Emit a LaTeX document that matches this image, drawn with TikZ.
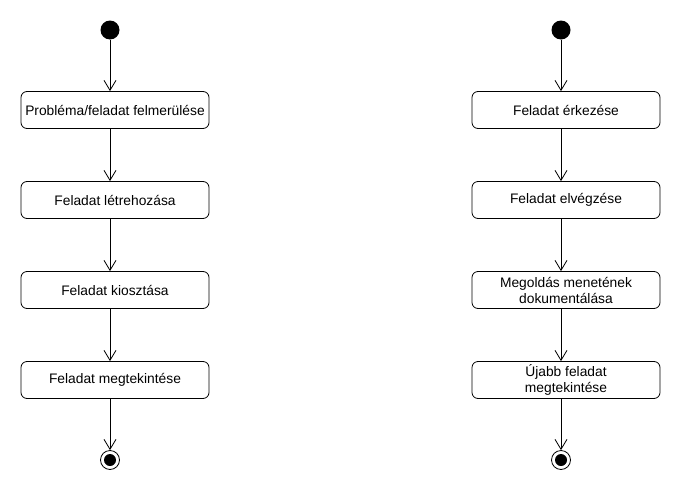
\documentclass[tikz,border=0pt]{standalone}
\usepackage{fontspec}
\setmainfont{Liberation Sans}
\usetikzlibrary{arrows.meta}
\tikzset{
  act/.style={draw, line width=0.8pt, rounded corners=6pt, minimum width=188pt, minimum height=37pt,
    inner sep=0pt, align=center, font=\fontsize{13.8}{16}\selectfont},
  startdot/.style={circle, fill, minimum size=19pt, inner sep=0pt},
  enddot/.style={circle, draw, line width=0.8pt, minimum size=19pt, inner sep=0pt},
  flow/.style={line width=0.8pt, -{Straight Barb[length=10pt,width=12pt,line width=0.8pt]}},
}
\begin{document}
\begin{tikzpicture}[x=1pt,y=-1pt]
    \useasboundingbox (0,0) rectangle (680,490);

    \def\xl{110}
    \def\xr{561}

    \node[startdot] (s1) at (\xl,30) {};
    \node[startdot] (s2) at (\xr,30) {};

    \foreach \lbl [count=\i] in {Probléma/feladat felmerülése, Feladat létrehozása,
        Feladat kiosztása, Feladat megtekintése}
      \node[act] (l\i) at (\xl+5,{20+90*\i}) {\lbl};

    \foreach \lbl [count=\i] in {Feladat érkezése, Feladat elvégzése,
        Megoldás menetének\\dokumentálása, Újabb feladat\\megtekintése}
      \node[act] (r\i) at (\xr+5,{20+90*\i}) {\lbl};

    \node[enddot] (e1) at (\xl,460) {};
    \node[enddot] (e2) at (\xr,460) {};
    \fill (e1) circle (6pt);
    \fill (e2) circle (6pt);

    \draw[flow] (s1) -- (s1 |- l1.north);
    \draw[flow] (s2) -- (s2 |- r1.north);
    \foreach \i/\j in {1/2,2/3,3/4} {
      \draw[flow] (l\i.south -| s1) -- (l\j.north -| s1);
      \draw[flow] (r\i.south -| s2) -- (r\j.north -| s2);
    }
    \draw[flow] (l4.south -| s1) -- (e1);
    \draw[flow] (r4.south -| s2) -- (e2);
  \end{tikzpicture}
\end{document}
